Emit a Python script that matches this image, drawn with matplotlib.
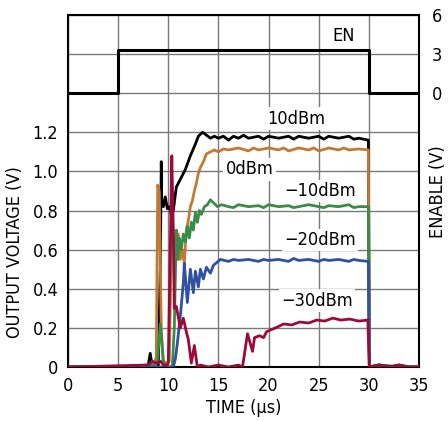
import matplotlib.pyplot as plt
from matplotlib import font_manager

# time axis (us) and traces
t_black = [0, 5, 8.0, 8.2, 8.4, 9.0, 9.2, 9.3, 9.35, 9.5, 9.7, 9.9, 10.1, 10.3, 10.5,
           10.8, 11.2, 11.7, 12.2, 12.7, 13.0, 13.4, 13.7, 14.2, 14.6, 15, 15.5, 16,
           16.5, 17, 17.5, 18, 19, 19.5, 20, 21, 22, 22.5, 23, 24, 25, 25.5, 26, 27,
           28, 28.5, 29, 29.95, 30.05, 31, 32, 33, 34, 35]
v_black = [0, 0, 0.01, 0.07, 0, 0, 0.5, 1.05, 0.84, 0.82, 0.87, 0.81, 0.82, 0.78, 0.8,
           0.92, 0.96, 1.01, 1.08, 1.14, 1.18, 1.2, 1.19, 1.17, 1.18, 1.17, 1.18, 1.16,
           1.18, 1.17, 1.185, 1.17, 1.18, 1.165, 1.18, 1.17, 1.18, 1.165, 1.18, 1.17,
           1.18, 1.165, 1.18, 1.17, 1.18, 1.165, 1.17, 1.16, 0.0, 0.01, 0, 0.01, 0, 0]

t_orange = [0, 8.0, 8.6, 8.8, 8.95, 9.1, 9.3, 9.5, 9.8, 10.1, 10.3, 10.45, 10.6, 10.8,
            11.0, 11.2, 11.4, 11.6, 11.8, 12.0, 12.2, 12.4, 12.6, 12.8, 13.0, 13.2,
            13.5, 13.8, 14.2, 14.6, 15, 15.5, 16, 17, 18, 18.5, 19, 20, 21, 21.5, 22,
            23, 24, 24.5, 25, 26, 27, 27.5, 28, 29, 29.95, 30.05, 31, 33, 35]
v_orange = [0, 0, 0.02, 0.05, 0.93, 0.9, 0.2, 0.03, 0.02, 0.03, 0.6, 0.71, 0.65, 0.58,
            0.68, 0.55, 0.6, 0.53, 0.7, 0.75, 0.82, 0.85, 0.9, 0.94, 0.99, 1.02, 1.05,
            1.09, 1.1, 1.11, 1.1, 1.115, 1.11, 1.12, 1.105, 1.12, 1.11, 1.12, 1.11,
            1.12, 1.105, 1.12, 1.11, 1.12, 1.105, 1.12, 1.11, 1.12, 1.11, 1.115, 1.11,
            0.0, 0.01, 0, 0]

t_green = [0, 8.0, 8.9, 9.2, 9.5, 9.8, 10.4, 10.6, 10.8, 10.95, 11.1, 11.3, 11.5, 11.7,
           11.9, 12.1, 12.3, 12.5, 12.7, 12.9, 13.1, 13.3, 13.6, 13.9, 14.2, 14.5,
           14.9, 15.3, 16, 16.5, 17, 18, 19, 19.5, 20, 21, 22, 22.5, 23, 24, 25, 25.5,
           26, 27, 28, 28.5, 29, 29.95, 30.05, 31, 33, 35]
v_green = [0, 0, 0.02, 0.22, 0.03, 0.0, 0.0, 0.2, 0.7, 0.55, 0.66, 0.6, 0.68, 0.64,
           0.72, 0.66, 0.74, 0.7, 0.79, 0.74, 0.8, 0.78, 0.82, 0.83, 0.855, 0.84,
           0.82, 0.83, 0.82, 0.815, 0.83, 0.82, 0.825, 0.815, 0.83, 0.82, 0.825,
           0.815, 0.82, 0.83, 0.82, 0.815, 0.825, 0.82, 0.83, 0.815, 0.82, 0.82, 0.0,
           0.01, 0, 0]

t_blue = [0, 8.0, 10.5, 10.7, 10.9, 11.2, 11.5, 11.6, 11.9, 12.2, 12.5, 12.7, 13.0,
          13.2, 13.5, 13.8, 14.2, 14.5, 15.2, 16, 16.5, 17, 18, 19, 19.5, 20, 21, 22,
          22.5, 23, 24, 25, 25.5, 26, 27, 28, 28.5, 29, 29.95, 30.05, 31, 33, 35]
v_blue = [0, 0, 0.0, 0.04, 0.12, 0.26, 0.43, 0.53, 0.33, 0.5, 0.38, 0.49, 0.41, 0.5,
          0.45, 0.51, 0.48, 0.52, 0.55, 0.54, 0.55, 0.545, 0.55, 0.54, 0.55, 0.545,
          0.55, 0.54, 0.555, 0.545, 0.55, 0.54, 0.55, 0.545, 0.55, 0.54, 0.55, 0.545,
          0.54, 0.0, 0.01, 0, 0]

t_red = [0, 8.0, 8.4, 8.8, 9.2, 9.7, 10.0, 10.2, 10.35, 10.5, 10.6, 10.8, 11.2, 11.5,
         11.8, 12.0, 12.3, 12.6, 12.9, 13.2, 14, 15, 16, 17, 17.4, 17.9, 18.4, 18.6,
         19.1, 19.5, 19.8, 20.2, 20.7, 21.5, 22.3, 23.1, 24.0, 24.8, 25.6, 26.4, 27.2,
         28.1, 29.0, 29.9, 30.05, 31, 32, 33, 34, 35]
v_red = [0, 0.01, 0.03, 0.02, 0.03, 0.0, 0.02, 0.6, 1.08, 0.7, 0.3, 0.31, 0.2, 0.25,
         0.18, 0.14, 0.02, 0.11, 0.0, 0.01, 0.0, 0.01, 0.0, 0.01, 0.0, 0.17, 0.08,
         0.15, 0.16, 0.15, 0.18, 0.19, 0.2, 0.22, 0.215, 0.23, 0.225, 0.24, 0.235,
         0.25, 0.24, 0.245, 0.235, 0.24, 0.0, 0.01, 0, 0.01, 0, 0]

t_en = [0, 5, 5, 30, 30, 35]
v_en = [0, 0, 3.3, 3.3, 0, 0]

labels = ["10dBm", "0dBm", "\u221210dBm", "\u221220dBm", "\u221230dBm"]
label_x = [22.8, 18.1, 25.1, 25.1, 24.8]
label_y = [1.27, 1.01, 0.90, 0.65, 0.34]

families = [f.name for f in font_manager.fontManager.ttflist]
font = "Liberation Sans Narrow" if "Liberation Sans Narrow" in families else "DejaVu Sans"
plt.rcParams["font.family"] = [font, "DejaVu Sans"]
plt.rcParams["font.stretch"] = "condensed"
plt.rcParams["font.size"] = 13

fig = plt.figure(figsize=(4.48, 4.21), dpi=100)
ax = fig.add_axes([68 / 448, 54 / 421, 351 / 448, 352 / 421])

colors = ["black", "#c07a35", "#3a8a48", "#3050a0", "#9a0a3a"]
series = [(t_black, v_black), (t_orange, v_orange), (t_green, v_green),
          (t_blue, v_blue), (t_red, v_red)]
for (t, v), c in zip(series, colors):
    ax.plot(t, v, color=c, lw=2.0, zorder=3)

for s, x, y in zip(labels, label_x, label_y):
    ax.text(x, y, s, ha="center", va="center", zorder=4,
            bbox=dict(facecolor="white", edgecolor="none", pad=1.5))

ax.set_xlim(0, 35)
ax.set_ylim(0, 1.8)
ax.set_xticks(range(0, 36, 5))
yt = [i * 0.2 for i in range(10)]
ax.set_yticks(yt)
ax.set_yticklabels(["0", "0.2", "0.4", "0.6", "0.8", "1.0", "1.2", "", "", ""])
ax.tick_params(length=0, pad=7)
ax.grid(True, color="#7a7a7a", lw=1.0)
for sp in ax.spines.values():
    sp.set_linewidth(1.5)

ax2 = ax.twinx()
ax2.set_ylim(-21, 6)
ax2.set_yticks([0, 3, 6])
ax2.tick_params(length=0, pad=9)
ax2.plot(t_en, v_en, color="black", lw=2.2, zorder=3)
ax2.text(27.5, 4.4, "EN", ha="center", va="center")
for sp in ax2.spines.values():
    sp.set_visible(False)

ax.set_xlabel("TIME (\u00b5s)", labelpad=3)
fig.text(15 / 448, 1 - 252 / 421, "OUTPUT VOLTAGE (V)", rotation=90,
         ha="center", va="center")
fig.text(438 / 448, 1 - 192 / 421, "ENABLE (V)", rotation=90,
         ha="center", va="center")

fig.savefig("out.png", dpi=100)
